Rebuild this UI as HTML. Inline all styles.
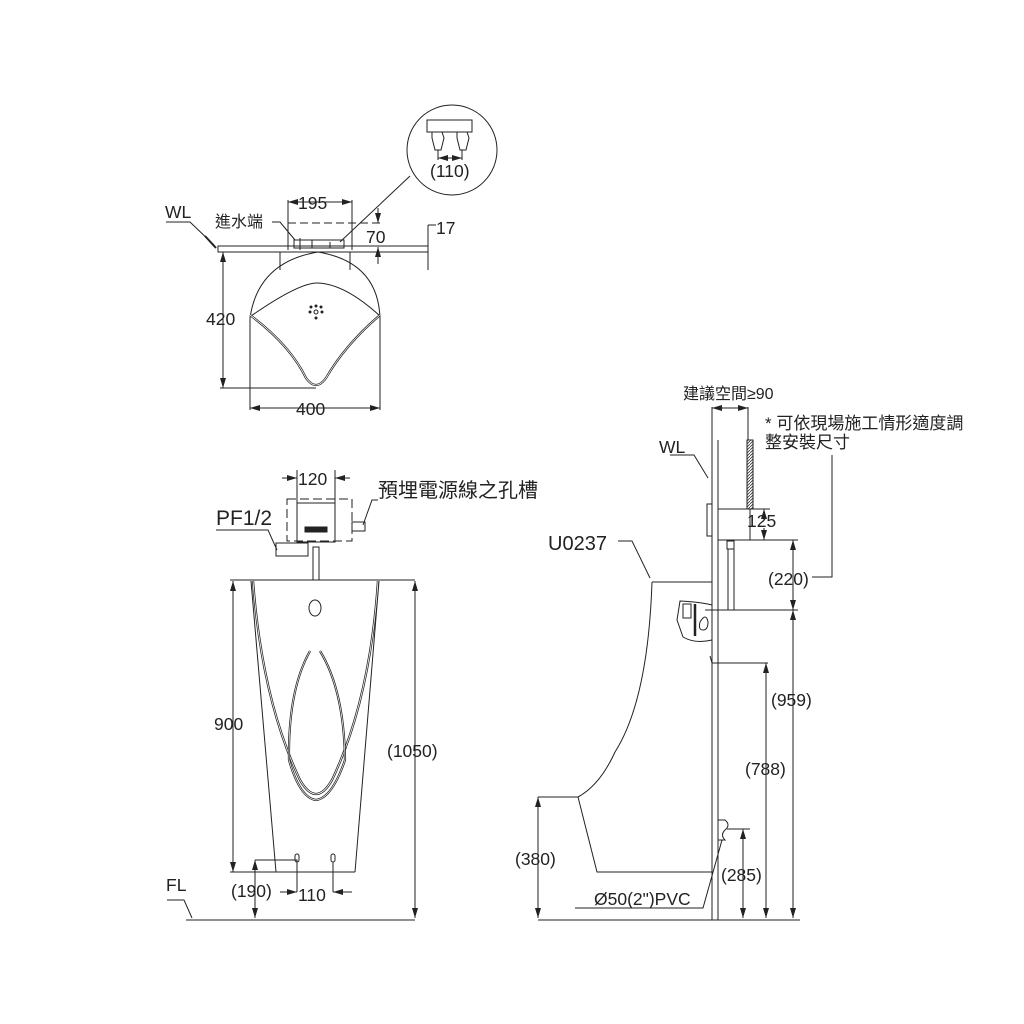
<!DOCTYPE html>
<html><head><meta charset="utf-8"><style>
html,body{margin:0;padding:0;background:#fff;}
svg{display:block}
text{font-family:"Liberation Sans","Noto Sans CJK TC",sans-serif;fill:#222}
</style></head><body>
<svg width="1024" height="1024" viewBox="0 0 1024 1024" xmlns="http://www.w3.org/2000/svg">
<defs>
<marker id="a" viewBox="0 0 10 6" refX="10" refY="3" markerWidth="10" markerHeight="6" orient="auto-start-reverse" markerUnits="userSpaceOnUse"><path d="M0,0 L10,3 L0,6z" fill="#222"/></marker>
<pattern id="h" width="3" height="3" patternUnits="userSpaceOnUse"><path d="M0,3 L3,0" stroke="#333" stroke-width="0.8"/></pattern>
</defs>
<g fill="none" stroke="#222" stroke-width="1">
<!-- TOP VIEW -->
<rect x="218" y="246" width="210" height="6"/>
<path d="M250,318 Q258,262 318,252 Q378,262 380,318"/>
<path d="M251,316 Q300,282 318,283 Q345,284 380,316"/>
<path d="M250,315 Q290,345 306,378 Q316,392 326,378 Q345,345 380,315" stroke-width="2.2"/>
<path d="M250,315 Q290,345 306,378 Q316,392 326,378 Q345,345 380,315" stroke="#fff" stroke-width="0.8"/>
<path d="M250,318 V410 M380,318 V410 M280,252 V270 M350,252 V270"/>
<path d="M250,408 H380" marker-start="url(#a)" marker-end="url(#a)"/>
<path d="M220,388 H316"/>
<path d="M223,252 V388" marker-start="url(#a)" marker-end="url(#a)"/>
<path d="M288,200 V250 M352,200 V250"/>
<path d="M288,202 H352" marker-start="url(#a)" marker-end="url(#a)"/>
<path d="M288,223 H380" stroke-dasharray="8,4"/>
<path d="M378,208 V223" marker-end="url(#a)"/><path d="M378,264 V247" marker-end="url(#a)"/><path d="M378,247 V252"/>
<path d="M428,252 V270 M428,225 V246"/>
<path d="M428,225 H436"/>
<path d="M294,240 h50 v8 h-50z M300,238 v12 M312,240 v8 M330,242 v6"/>
<path d="M166,222 H190 L214,245"/><path d="M205,236 L216,248" stroke-width="2"/>
<path d="M272,222 H280 L295,240"/>
<g fill="#222"><circle cx="316" cy="306" r="1"/><circle cx="316" cy="318" r="1"/><circle cx="310" cy="312" r="1"/><circle cx="322" cy="312" r="1"/><circle cx="311" cy="307" r="1"/><circle cx="321" cy="307" r="1"/></g>
<circle cx="316" cy="312" r="2"/>
<!-- detail circle -->
<circle cx="452" cy="150" r="45"/>
<path d="M340,242 L410,176"/>
<rect x="427" y="120" width="45" height="12"/>
<path d="M432,132 h10 l2,6 l-3,12 h-6 l-3,-12z M457,132 h10 l2,6 l-3,12 h-6 l-3,-12z"/>
<path d="M438,150 V160 M462,150 V160"/>
<path d="M438,158 H462" marker-start="url(#a)" marker-end="url(#a)"/>
<!-- FRONT VIEW -->
<rect x="287" y="499" width="65" height="42" stroke-dasharray="9,4"/>
<rect x="297" y="503" width="38" height="39"/>
<rect x="305" y="527" width="22" height="5" fill="#222"/>
<rect x="352" y="522" width="13" height="9"/>
<path d="M276,543 H308 V556 H276z M313,547 h6 v33 h-6z"/>
<path d="M297,470 V503 M335,470 V503"/>
<path d="M282,478 H297" marker-end="url(#a)"/><path d="M350,478 H335" marker-end="url(#a)"/>
<path d="M216,530 H268 L277,550"/>
<path d="M378,500 H372 L363,525"/>
<path d="M230,580 H415"/>
<path d="M251,581 L276,872 M379,581 L355,872 M230,872 H355"/>
<path d="M253,581 Q262,700 300,780 Q316,808 332,780 Q370,700 378,581" stroke-width="2.3"/>
<path d="M253,581 Q262,700 300,780 Q316,808 332,780 Q370,700 378,581" stroke="#fff" stroke-width="0.8"/>
<path d="M310,651 Q288,690 289,760 Q300,798 316,800 M320,651 Q344,690 345,760 Q332,798 316,800" stroke-width="2.2"/>
<path d="M310,651 Q288,690 289,760 Q300,798 316,800 M320,651 Q344,690 345,760 Q332,798 316,800" stroke="#fff" stroke-width="0.7"/>
<ellipse cx="315" cy="608" rx="6" ry="8"/>
<rect x="295" y="854" width="4" height="8" rx="2"/><rect x="331" y="854" width="4" height="8" rx="2"/>
<path d="M233,581 V872" marker-start="url(#a)" marker-end="url(#a)"/>
<path d="M415,581 V918" marker-start="url(#a)" marker-end="url(#a)"/>
<path d="M186,920 H415"/>
<path d="M167,900 H184 L192,918"/>
<path d="M255,860 H297 V892 M333,862 V892"/>
<path d="M255,860 V918" marker-start="url(#a)" marker-end="url(#a)"/>
<path d="M280,892 H297" marker-end="url(#a)"/><path d="M352,892 H333" marker-end="url(#a)"/>
<!-- SIDE VIEW -->
<path d="M712,440 V920 M718,440 V920"/>
<rect x="747" y="440" width="6" height="69" fill="url(#h)"/>
<rect x="718" y="509" width="32" height="31"/>
<rect x="707" y="504" width="5" height="32"/>
<path d="M712,407 V440 M748,407 V440"/>
<path d="M712,408 H748" marker-start="url(#a)" marker-end="url(#a)"/>
<path d="M750,509 H770 M718,540 H798"/>
<path d="M764,520 V509" marker-end="url(#a)"/><path d="M764,528 V540" marker-end="url(#a)"/>
<path d="M832,455 V577 H812"/>
<path d="M793,540 V610" marker-start="url(#a)" marker-end="url(#a)"/>
<path d="M793,610 V918" marker-start="url(#a)" marker-end="url(#a)"/>
<path d="M718,610 H798"/>
<path d="M727,541 h7 v8 h-7z M728,549 h6 v61 h-6z"/>
<path d="M705,610 H734"/>
<path d="M680,601 Q700,602 712,605 V640 Q695,644 683,637 L677,620z"/>
<rect x="683" y="604" width="8" height="14"/>
<path d="M695,604 V636" stroke-width="2.5"/>
<path d="M700,622 Q706,612 708,622 Q708,630 703,630 Q698,630 700,622"/>
<path d="M712,663 H768"/>
<path d="M710,656 L712,663"/>
<path d="M766,663 V918" marker-start="url(#a)" marker-end="url(#a)"/>
<path d="M652,582 H712"/>
<path d="M652,582 Q648,700 615,752 Q600,785 578,797 M538,797 H578 L597,872 H712"/>
<path d="M538,797 V918" marker-start="url(#a)" marker-end="url(#a)"/>
<path d="M538,920 H800"/>
<path d="M718,820 h7 q6,5 0,10 q-5,5 0,10 h-7"/>
<path d="M727,829 H750"/>
<path d="M743,829 V918" marker-start="url(#a)" marker-end="url(#a)"/>
<path d="M575,908 H703 L722,840"/>
<path d="M618,541 H632 L650,578"/>
<path d="M670,455 H694 L708,478"/>
</g>
<g font-size="17.5">
<text x="165" y="218">WL</text>
<text x="215" y="227" font-size="16">進水端</text>
<text x="298" y="209">195</text>
<text x="366" y="243">70</text>
<text x="436" y="234">17</text>
<text x="206" y="325">420</text>
<text x="296" y="415">400</text>
<text x="430" y="177">(110)</text>
<text x="298" y="485">120</text>
<text x="216" y="525" font-size="21">PF1/2</text>
<text x="378" y="497" font-size="20">預埋電源線之孔槽</text>
<text x="214" y="730">900</text>
<text x="387" y="757">(1050)</text>
<text x="166" y="891">FL</text>
<text x="231" y="897">(190)</text>
<text x="298" y="901">110</text>
<text x="683" y="399" font-size="16">建議空間≥90</text>
<text x="765" y="429" font-size="17">* 可依現場施工情形適度調</text>
<text x="765" y="448" font-size="17">整安裝尺寸</text>
<text x="659" y="453">WL</text>
<text x="747" y="527">125</text>
<text x="768" y="585">(220)</text>
<text x="548" y="550" font-size="20">U0237</text>
<text x="771" y="706">(959)</text>
<text x="745" y="775">(788)</text>
<text x="515" y="865">(380)</text>
<text x="721" y="881">(285)</text>
<text x="594" y="905">Ø50(2")PVC</text>
</g>
</svg>
</body></html>
